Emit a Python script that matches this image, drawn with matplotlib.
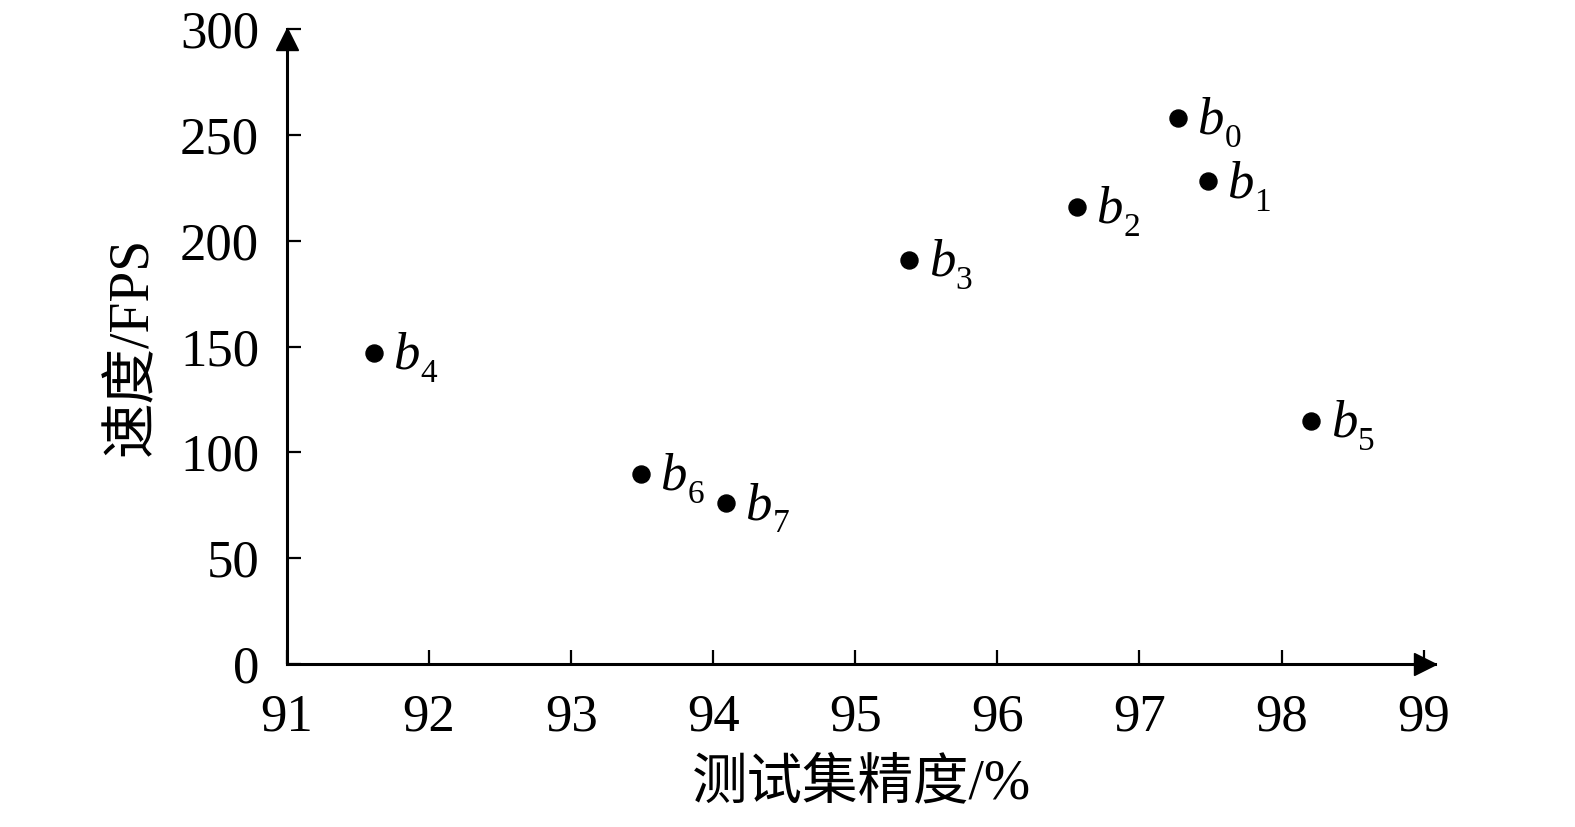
import matplotlib
matplotlib.use("Agg")
import matplotlib.pyplot as plt
from matplotlib.transforms import offset_copy

# data
names = ["b0", "b1", "b2", "b3", "b4", "b5", "b6", "b7"]
accuracy = [97.27, 97.48, 96.56, 95.38, 91.61, 98.21, 93.49, 94.09]
fps = [258, 228, 216, 191, 147, 115, 90, 76]

x_ticks = [91, 92, 93, 94, 95, 96, 97, 98, 99]
y_ticks = [0, 50, 100, 150, 200, 250, 300]

plt.rcParams['font.family'] = ['Liberation Serif', 'Noto Sans CJK SC']

fig = plt.figure(figsize=(15.75, 8.27), dpi=100)
ax = fig.add_axes([0.1822, 0.197, 0.7289, 0.768])

ax.scatter(accuracy, fps, s=150, color='black', zorder=3)
for name, x, y in zip(names, accuracy, fps):
    # italic b with a lowered roman subscript
    ax.annotate('b', (x, y), xytext=(14, -11.5), textcoords='offset points',
                fontsize=38, fontstyle='italic', ha='left', va='baseline')
    ax.annotate(name[1:], (x, y), xytext=(33.5, -21), textcoords='offset points',
                fontsize=24, ha='left', va='baseline')

ax.set_xlim(91, 99.08)
ax.set_ylim(0, 300)
ax.set_xticks(x_ticks)
ax.set_yticks(y_ticks)

for side in ['top', 'right']:
    ax.spines[side].set_visible(False)
for side in ['left', 'bottom']:
    ax.spines[side].set_linewidth(2.2)

ax.tick_params(direction='in', length=10, width=1.6, labelsize=38, color='black')
ax.tick_params(axis='y', pad=20)
ax.tick_params(axis='x', pad=21)

# arrow heads on the axes, tips at the ends of the spines
ax.plot(1, 0, marker='>', markersize=16, color='black', clip_on=False,
        transform=offset_copy(ax.transAxes, fig, x=-10, y=0, units='dots'))
ax.plot(0, 1, marker='^', markersize=16, color='black', clip_on=False,
        transform=offset_copy(ax.transAxes, fig, x=0, y=-10, units='dots'))

ax.set_xlabel('测试集精度/%', fontsize=40, labelpad=12)
ax.set_ylabel('速度/FPS', fontsize=40, labelpad=15)

fig.savefig('out.png', dpi=100)
